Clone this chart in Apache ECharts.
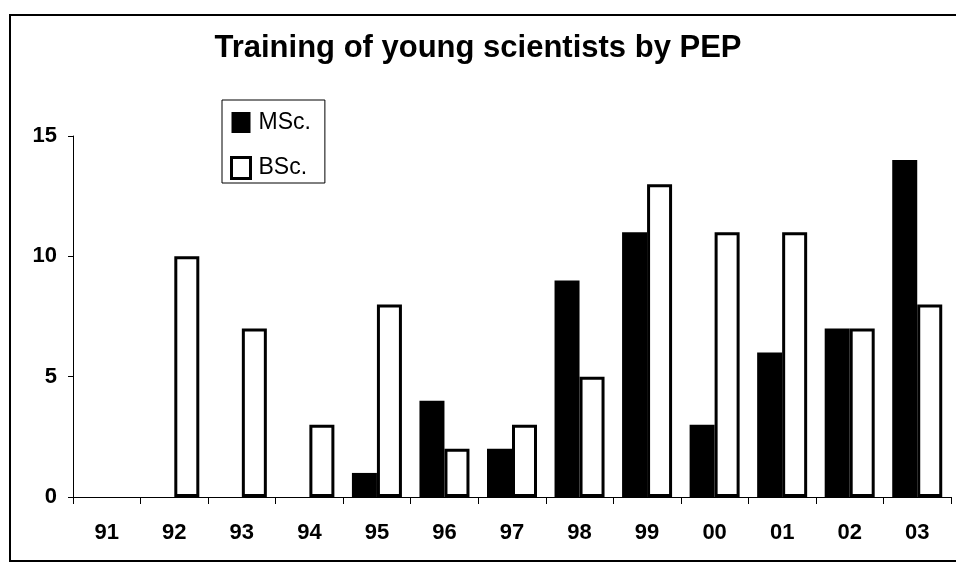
<!DOCTYPE html>
<html>
<head>
<meta charset="utf-8">
<title>Training of young scientists by PEP</title>
<script src="https://cdn.jsdelivr.net/npm/echarts@6/dist/echarts.min.js"></script>
<style>
  html, body { margin: 0; padding: 0; background: #fff; }
  #chart { width: 956px; height: 562px; }
</style>
</head>
<body>
<div id="chart"></div>
<script>
// data
const years = ["91", "92", "93", "94", "95", "96", "97", "98", "99", "00", "01", "02", "03"];
const mscValues = [0, 0, 0, 0, 1, 4, 2, 9, 11, 3, 6, 7, 14];
const bscValues = [0, 10, 7, 3, 8, 2, 3, 5, 13, 11, 11, 7, 8];
const yTicks = [0, 5, 10, 15];

const font = "'Liberation Sans', Arial, sans-serif";

// a zero bar is not drawn at all in the original (no outline on the axis)
const asBars = (values) => values.map((v) => (v === 0 ? null : v));

const chart = echarts.init(document.getElementById("chart"));

chart.setOption({
  backgroundColor: "#fff",
  animation: false,
  title: {
    text: "Training of young scientists by PEP",
    left: "center",
    top: 28,
    textStyle: {
      fontFamily: font,
      fontSize: 31,
      fontWeight: "bold",
      color: "#000",
    },
  },
  // outer frame of the scanned chart
  graphic: [
    {
      type: "rect",
      shape: { x: 10, y: 15, width: 960, height: 546 },
      style: { fill: "none", stroke: "#000", lineWidth: 2 },
      silent: true,
    },
  ],
  legend: {
    orient: "vertical",
    left: 222,
    top: 100,
    padding: [11, 14, 3, 8],
    itemGap: 22,
    itemWidth: 19,
    itemHeight: 21,
    borderColor: "#000",
    borderWidth: 1,
    backgroundColor: "#fff",
    icon: "rect",
    textStyle: {
      fontFamily: font,
      fontSize: 23,
      color: "#000",
      padding: [0, 0, 0, 3],
    },
    data: [
      { name: "MSc.", itemStyle: { color: "#000" } },
      { name: "BSc.", itemStyle: { color: "#fff", borderColor: "#000", borderWidth: 3 } },
    ],
  },
  grid: {
    left: 73,
    right: 5,
    top: 136,
    bottom: 65,
  },
  xAxis: {
    type: "category",
    data: years,
    axisLine: { lineStyle: { color: "#000", width: 1 } },
    axisTick: { show: true, length: 7, lineStyle: { color: "#000" } },
    axisLabel: {
      fontFamily: font,
      fontSize: 22,
      fontWeight: "bold",
      color: "#000",
      margin: 25,
    },
  },
  yAxis: {
    type: "value",
    min: yTicks[0],
    max: yTicks[yTicks.length - 1],
    interval: 5,
    axisLine: { show: true, lineStyle: { color: "#000", width: 1 } },
    axisTick: { show: true, length: 5, lineStyle: { color: "#000" } },
    splitLine: { show: false },
    axisLabel: {
      fontFamily: font,
      fontSize: 22,
      fontWeight: "bold",
      color: "#000",
      margin: 16,
    },
  },
  series: [
    {
      name: "MSc.",
      type: "bar",
      data: asBars(mscValues),
      barWidth: 25,
      barGap: "0%",
      itemStyle: { color: "#000" },
    },
    {
      name: "BSc.",
      type: "bar",
      data: asBars(bscValues),
      barWidth: 25,
      itemStyle: { color: "#fff", borderColor: "#000", borderWidth: 3 },
    },
  ],
});
</script>
</body>
</html>
